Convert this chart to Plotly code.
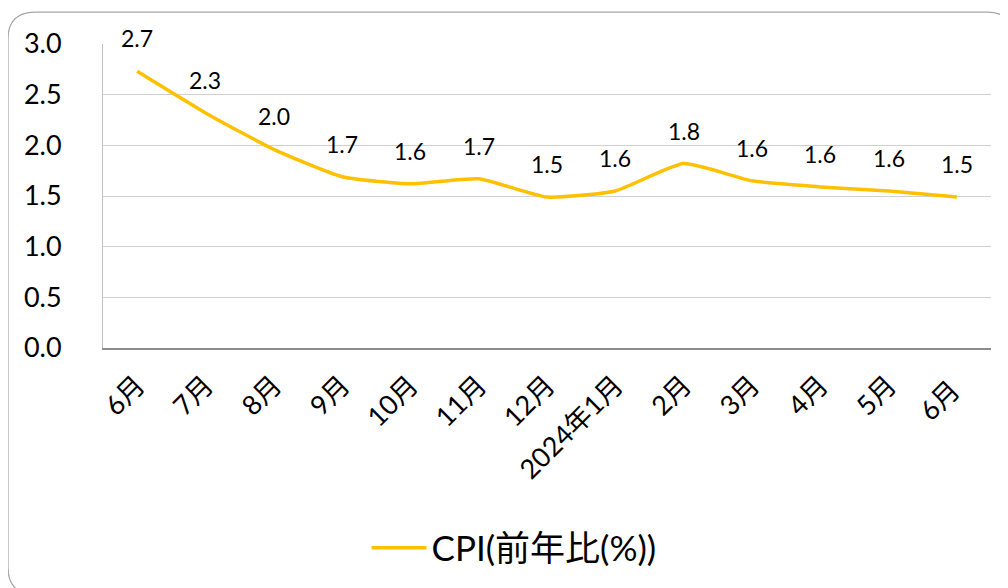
import plotly.graph_objects as go

categories = ["6月", "7月", "8月", "9月", "10月", "11月", "12月", "2024年1月",
              "2月", "3月", "4月", "5月", "6月 "]
cpi_values = [2.73, 2.32, 1.96, 1.69, 1.62, 1.67, 1.49, 1.55, 1.82, 1.65, 1.59, 1.55, 1.49]
cpi_labels = ["2.7", "2.3", "2.0", "1.7", "1.6", "1.7", "1.5", "1.6", "1.8", "1.6", "1.6", "1.6", "1.5"]
y_ticks = [0.0, 0.5, 1.0, 1.5, 2.0, 2.5, 3.0]
series_name = "CPI(前年比(%))"

FONT = "Lato, 'Noto Sans CJK JP', sans-serif"
OFF = 8  # page body margin
W, H = 1000, 580
ML, MR, MT, MB = 95, 17, 36, 239
PW, PH = W - ML - MR, H - MT - MB

fig = go.Figure()
fig.add_trace(go.Scatter(
    x=list(range(len(categories))), y=cpi_values, mode="lines", name=series_name,
    line=dict(color="#FFC000", width=3.5, shape="spline", smoothing=0.5),
    hoverinfo="skip",
))
for i, (v, t) in enumerate(zip(cpi_values, cpi_labels)):
    fig.add_annotation(x=i, y=v, text=t, showarrow=False, yshift=33,
                       font=dict(family=FONT, size=23, color="#000000"))

def px(xs):
    return (xs - OFF - ML) / PW

def py(ys):
    return (H + OFF - MB - ys) / PH

x0, x1 = px(8), px(1014)
y0, y1 = py(12), py(596)
rx, ry = 27 / PW, 27 / PH
path = (f"M {x0},{y1 + ry} L {x0},{y0 - ry} Q {x0},{y0} {x0 + rx},{y0} "
        f"L {x1 - rx},{y0} Q {x1},{y0} {x1},{y0 - ry} L {x1},{y1 + ry} "
        f"Q {x1},{y1} {x1 - rx},{y1} L {x0 + rx},{y1} Q {x0},{y1} {x0},{y1 + ry} Z")
fig.add_shape(type="path", xref="paper", yref="paper", path=path,
              line=dict(color="#A6A6A6", width=1.2), layer="below")

fig.update_layout(
    width=W, height=H,
    margin=dict(l=ML, r=MR, t=MT, b=MB),
    paper_bgcolor="white", plot_bgcolor="white",
    font=dict(family=FONT, color="#000000"),
    showlegend=True,
    legend=dict(x=px(514), y=py(548), xanchor="center", yanchor="middle",
                font=dict(family=FONT, size=35, color="#000000"),
                bgcolor="rgba(0,0,0,0)", itemwidth=55),
    xaxis=dict(
        tickmode="array", tickvals=list(range(len(categories))), ticktext=categories,
        range=[-0.5, len(categories) - 0.5], tickangle=-45,
        tickfont=dict(family=FONT, size=27, color="#000000"),
        showgrid=False, showline=True, linecolor="#8C8C8C", linewidth=1.5,
        ticks="", zeroline=False, fixedrange=True, ticklabelstandoff=9,
    ),
    yaxis=dict(
        range=[0, 3.0], tickvals=y_ticks, tickformat=".1f",
        tickfont=dict(family=FONT, size=27, color="#000000"),
        showgrid=True, gridcolor="#D0D0D0", gridwidth=1,
        showline=True, linecolor="#BFBFBF", linewidth=1, mirror=False,
        ticks="", zeroline=False, ticklabelstandoff=35, fixedrange=True,
    ),
)

fig.write_html("out.html")
